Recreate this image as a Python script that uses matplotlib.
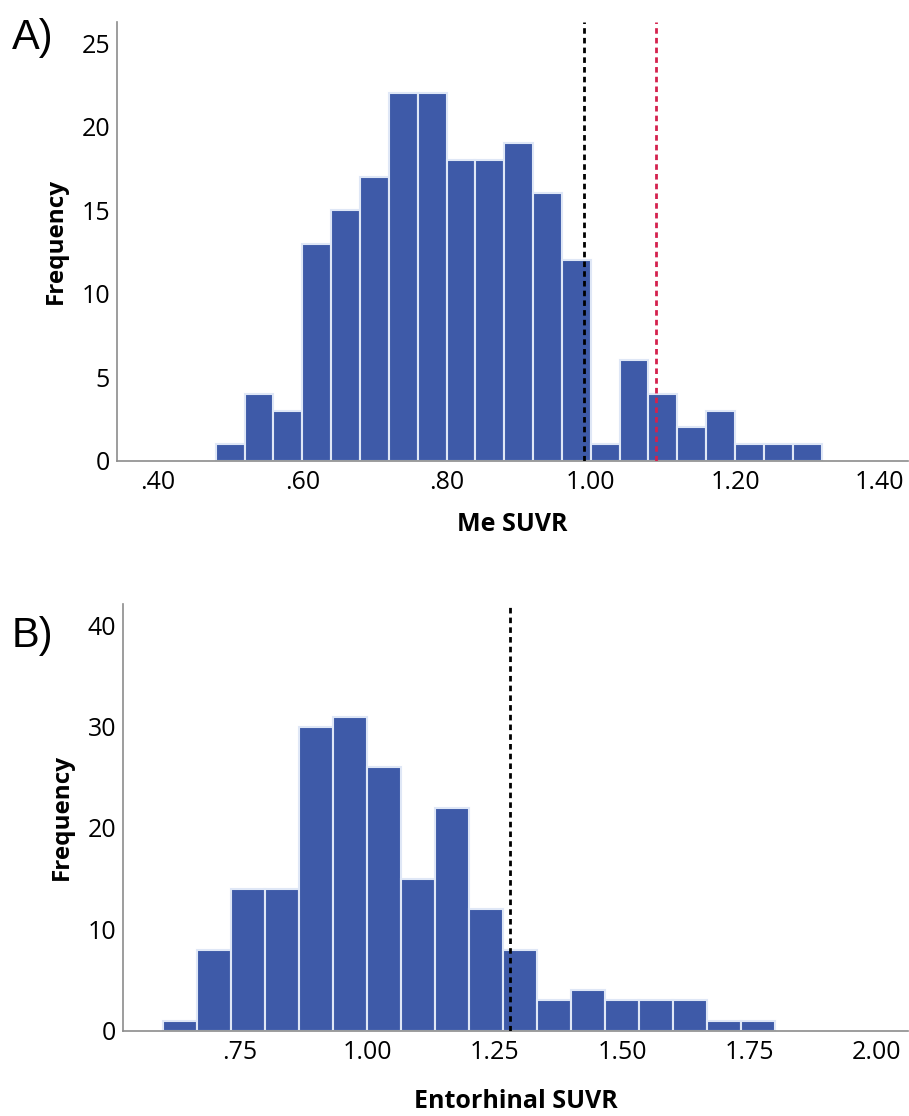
import numpy as np
import matplotlib
matplotlib.use("Agg")
import matplotlib.pyplot as plt
from matplotlib.ticker import FuncFormatter

# panel A - Me SUVR
me_edges = np.linspace(0.48, 1.32, 22)
me_counts = [1, 4, 3, 13, 15, 17, 22, 22, 18, 18, 19, 16, 12, 1, 6, 4, 2, 3, 1, 1, 1]
me_cut_black = 0.99
me_cut_red = 1.09
me_xticks = [0.40, 0.60, 0.80, 1.00, 1.20, 1.40]
me_yticks = [0, 5, 10, 15, 20, 25]

# panel B - Entorhinal SUVR
ent_edges = np.linspace(0.60, 1.80, 19)
ent_counts = [1, 8, 14, 14, 30, 31, 26, 15, 22, 12, 8, 3, 4, 3, 3, 3, 1, 1]
ent_cut_black = 1.28
ent_xticks = [0.75, 1.00, 1.25, 1.50, 1.75, 2.00]
ent_yticks = [0, 10, 20, 30, 40]

bar_col = '#3e5aa8'
edge_col = '#dfe7f6'
font = 'Open Sans'

W, H = 909, 1116
fig = plt.figure(figsize=(W / 100, H / 100), dpi=100)


def fmt(v, pos):
    s = f'{v:.2f}'
    if s.startswith('0.'):
        s = s[1:]
    return s


def panel(rect, edges, counts, xlim, ylim, xticks, yticks, xlabel, xpad):
    ax = fig.add_axes(rect)
    ax.bar(edges[:-1], counts, width=np.diff(edges), align='edge',
           color=bar_col, edgecolor=edge_col, linewidth=1.5, zorder=2)
    ax.set_xlim(*xlim)
    ax.set_ylim(*ylim)
    ax.set_xticks(xticks)
    ax.set_yticks(yticks)
    ax.xaxis.set_major_formatter(FuncFormatter(fmt))
    for s in ['top', 'right']:
        ax.spines[s].set_visible(False)
    for s in ['left', 'bottom']:
        ax.spines[s].set_color('#8c8c8c')
        ax.spines[s].set_linewidth(1.2)
    ax.tick_params(axis='x', length=0, labelsize=18, pad=7)
    ax.tick_params(axis='y', length=0, labelsize=18, pad=5)
    for lab in ax.get_xticklabels() + ax.get_yticklabels():
        lab.set_fontfamily(font)
    ax.set_xlabel(xlabel, fontsize=18, fontweight='bold', family=font, labelpad=xpad)
    ax.set_ylabel('Frequency', fontsize=17.5, fontweight='bold', family=font, labelpad=10)
    return ax


axA = panel([117 / W, 1 - 460.7 / H, 1 - 117 / W - 0.001, (460.7 - 22.3) / H],
            me_edges, me_counts, (0.343, 1.44), (0, 26.25),
            me_xticks, me_yticks, 'Me SUVR', 12)
axA.axvline(me_cut_black, color='black', ls=(0, (2, 1.5)), lw=2, zorder=3)
axA.axvline(me_cut_red, color='#d4214d', ls=(0, (2, 1.5)), lw=2, zorder=3)

axB = panel([123 / W, 1 - 1030.7 / H, 1 - 123 / W - 0.001, (1030.7 - 604) / H],
            ent_edges, ent_counts, (0.521, 2.061), (0, 42.1),
            ent_xticks, ent_yticks, 'Entorhinal SUVR', 17)
axB.axvline(ent_cut_black, color='black', ls=(0, (2, 1.5)), lw=2, zorder=3)

fig.text(12 / W, 1 - 38 / H, 'A)', fontsize=30, family='Liberation Sans', va='center', ha='left')
fig.text(12 / W, 1 - 636 / H, 'B)', fontsize=30, family='Liberation Sans', va='center', ha='left')

fig.savefig('out.png', dpi=100)
